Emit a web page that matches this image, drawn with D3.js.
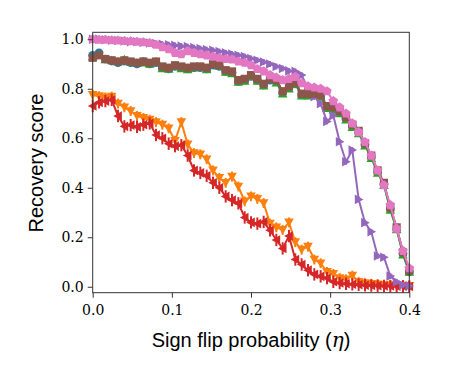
<!DOCTYPE html>
<html>
<head>
<meta charset="utf-8">
<script src="https://cdn.jsdelivr.net/npm/d3@7"></script>
<style>
  body { margin: 0; background: #fff; }
  svg text { fill: #000; }
</style>
</head>
<body>
<svg id="chart" width="449" height="380"></svg>
<script>
// sign flip probability, one value per point
const eta = [0, 0.008, 0.016, 0.024, 0.032, 0.04, 0.048, 0.056, 0.064, 0.072,
  0.08, 0.088, 0.096, 0.104, 0.112, 0.12, 0.128, 0.136, 0.144, 0.152,
  0.16, 0.168, 0.176, 0.184, 0.192, 0.2, 0.208, 0.216, 0.224, 0.232,
  0.24, 0.248, 0.256, 0.264, 0.272, 0.28, 0.288, 0.296, 0.304, 0.312,
  0.32, 0.328, 0.336, 0.344, 0.352, 0.36, 0.368, 0.376, 0.384, 0.392, 0.4]

const blueVals = [0.935, 0.945, 0.92, 0.912, 0.905, 0.912, 0.905, 0.9, 0.91, 0.9,
  0.905, 0.885, 0.88, 0.89, 0.885, 0.88, 0.885, 0.885, 0.88, 0.895,
  0.89, 0.87, 0.865, 0.83, 0.835, 0.85, 0.835, 0.815, 0.835, 0.83,
  0.785, 0.805, 0.82, 0.775, 0.775, 0.775, 0.77, 0.725, 0.72, 0.705,
  0.68, 0.65, 0.625, 0.575, 0.525, 0.465, 0.415, 0.315, 0.235, 0.135, 0.06]
const orangeVals = [0.775, 0.77, 0.765, 0.768, 0.74, 0.725, 0.71, 0.69, 0.682, 0.675,
  0.665, 0.655, 0.64, 0.59, 0.665, 0.575, 0.54, 0.535, 0.515, 0.47,
  0.44, 0.42, 0.445, 0.405, 0.345, 0.365, 0.355, 0.338, 0.255, 0.24,
  0.23, 0.26, 0.18, 0.15, 0.162, 0.11, 0.095, 0.06, 0.052, 0.035,
  0.03, 0.045, 0.02, 0.015, 0.012, 0.01, 0.008, 0.007, 0.006, 0.005, 0.004]
const greenVals = [0.93, 0.94, 0.918, 0.915, 0.91, 0.918, 0.908, 0.905, 0.905, 0.9,
  0.91, 0.882, 0.88, 0.892, 0.882, 0.878, 0.885, 0.888, 0.878, 0.898,
  0.892, 0.868, 0.862, 0.828, 0.832, 0.85, 0.832, 0.812, 0.838, 0.825,
  0.78, 0.8, 0.82, 0.772, 0.772, 0.776, 0.768, 0.722, 0.715, 0.7,
  0.675, 0.645, 0.62, 0.57, 0.52, 0.46, 0.41, 0.31, 0.232, 0.13, 0.06]
const redVals = [0.73, 0.745, 0.75, 0.755, 0.69, 0.648, 0.653, 0.646, 0.655, 0.66,
  0.613, 0.6, 0.578, 0.568, 0.572, 0.53, 0.47, 0.46, 0.448, 0.42,
  0.4, 0.365, 0.35, 0.337, 0.28, 0.26, 0.255, 0.262, 0.228, 0.189,
  0.155, 0.205, 0.11, 0.09, 0.067, 0.05, 0.042, 0.035, 0.02, 0.015,
  0.012, 0.01, 0.008, 0.006, 0.005, 0.004, 0.003, 0.003, 0.002, 0.002, 0.001]
const purpleVals = [1.0, 1.0, 0.998, 0.996, 0.995, 0.993, 0.99, 0.99, 0.987, 0.985,
  0.983, 0.98, 0.978, 0.975, 0.972, 0.97, 0.966, 0.962, 0.958, 0.955,
  0.95, 0.945, 0.94, 0.935, 0.93, 0.922, 0.915, 0.908, 0.9, 0.89,
  0.882, 0.872, 0.87, 0.855, 0.8, 0.768, 0.74, 0.668, 0.692, 0.586,
  0.505, 0.552, 0.353, 0.259, 0.222, 0.124, 0.119, 0.043, 0.02, 0.007, 0.003]
const brownVals = [0.925, 0.935, 0.92, 0.915, 0.91, 0.915, 0.91, 0.905, 0.91, 0.905,
  0.91, 0.89, 0.885, 0.895, 0.89, 0.885, 0.89, 0.89, 0.885, 0.9,
  0.895, 0.875, 0.87, 0.835, 0.84, 0.855, 0.84, 0.82, 0.84, 0.835,
  0.79, 0.81, 0.825, 0.78, 0.78, 0.78, 0.775, 0.73, 0.725, 0.71,
  0.685, 0.655, 0.63, 0.58, 0.53, 0.47, 0.42, 0.32, 0.24, 0.14, 0.065]
const pinkVals = [1.0, 0.998, 0.998, 0.996, 0.995, 0.993, 0.992, 0.99, 0.988, 0.985,
  0.978, 0.968, 0.96, 0.945, 0.94, 0.952, 0.945, 0.94, 0.935, 0.93,
  0.925, 0.92, 0.918, 0.91, 0.905, 0.895, 0.88, 0.87, 0.855, 0.845,
  0.835, 0.84, 0.848, 0.822, 0.81, 0.805, 0.8, 0.79, 0.75, 0.725,
  0.7, 0.66, 0.625, 0.585, 0.53, 0.47, 0.41, 0.33, 0.235, 0.145, 0.075]

const seriesVals = [blueVals, orangeVals, greenVals, redVals, purpleVals, brownVals, pinkVals]
const seriesColors = ['#1f77b4', '#ff7f0e', '#2ca02c', '#d62728', '#9467bd', '#8c564b', '#e377c2']
const seriesMarkers = ['circle', 'triDown', 'triUp', 'triLeft', 'triRight', 'square', 'pentagon']
const seriesErr = [0.01, 0.02, 0.01, 0.025, 0.012, 0.01, 0.01]

const xTicks = [0, 0.1, 0.2, 0.3, 0.4]
const yTicks = [0, 0.2, 0.4, 0.6, 0.8, 1.0]

const svg = d3.select('#chart')
const mLeft = 92.7, mRight = 409.3, mTop = 32.3, mBottom = 292.7

const x = d3.scaleLinear().domain([0, 0.4]).range([mLeft, mRight])
const y = d3.scaleLinear().domain([-0.024, 1.028]).range([mBottom, mTop])

// marker paths centred on 0,0
const ms = 4.8
function markerPath(kind) {
  const r = ms
  switch (kind) {
    case 'circle': return d3.symbol(d3.symbolCircle, 60)()
    case 'square': return `M${-r * 0.85},${-r * 0.85}H${r * 0.85}V${r * 0.85}H${-r * 0.85}Z`
    case 'triDown': return `M${-r},${-r * 0.8}L${r},${-r * 0.8}L0,${r * 1.0}Z`
    case 'triUp': return `M${-r},${r * 0.8}L${r},${r * 0.8}L0,${-r * 1.0}Z`
    case 'triLeft': return `M${r * 0.8},${-r}L${r * 0.8},${r}L${-r},0Z`
    case 'triRight': return `M${-r * 0.8},${-r}L${-r * 0.8},${r}L${r},0Z`
    case 'pentagon': {
      const pts = d3.range(5).map(i => {
        const a = -Math.PI / 2 + i * 2 * Math.PI / 5
        return [Math.cos(a) * r * 1.05, Math.sin(a) * r * 1.05]
      })
      return 'M' + pts.join('L') + 'Z'
    }
  }
}

const plot = svg.append('g')

seriesVals.forEach((vals, s) => {
  const data = vals.map((v, i) => ({ x: eta[i], y: v }))
  const color = seriesColors[s]
  const g = plot.append('g')

  g.append('path')
    .datum(data)
    .attr('fill', 'none')
    .attr('stroke', color)
    .attr('stroke-width', 2)
    .attr('d', d3.line().x(d => x(d.x)).y(d => y(d.y)))

  g.selectAll('line.err')
    .data(data)
    .enter().append('line')
    .attr('class', 'err')
    .attr('x1', d => x(d.x))
    .attr('x2', d => x(d.x))
    .attr('y1', d => y(d.y - seriesErr[s]))
    .attr('y2', d => y(d.y + seriesErr[s]))
    .attr('stroke', color)
    .attr('stroke-width', 2)

  g.selectAll('path.mk')
    .data(data)
    .enter().append('path')
    .attr('class', 'mk')
    .attr('transform', d => `translate(${x(d.x)},${y(d.y)})`)
    .attr('d', markerPath(seriesMarkers[s]))
    .attr('fill', color)
})

// frame
svg.append('rect')
  .attr('x', mLeft).attr('y', mTop)
  .attr('width', mRight - mLeft).attr('height', mBottom - mTop)
  .attr('fill', 'none')
  .attr('stroke', '#333')
  .attr('stroke-width', 1)

const yAxis = svg.append('g')
  .attr('transform', `translate(${mLeft},0)`)
  .call(d3.axisLeft(y).tickValues(yTicks).tickFormat(d3.format('.1f')).tickSize(5).tickPadding(4))
const xAxis = svg.append('g')
  .attr('transform', `translate(0,${mBottom})`)
  .call(d3.axisBottom(x).tickValues(xTicks).tickFormat(d3.format('.1f')).tickSize(5).tickPadding(5))

;[xAxis, yAxis].forEach(ax => {
  ax.select('.domain').remove()
  ax.selectAll('.tick line').attr('stroke', '#333')
  ax.selectAll('.tick text')
    .attr('font-family', '"DejaVu Serif", serif')
    .attr('font-size', 14)
    .attr('fill', '#000')
})
xAxis.selectAll('.tick text').attr('dy', '0.9em')

svg.append('text')
  .attr('transform', 'translate(43,163) rotate(-90)')
  .attr('text-anchor', 'middle')
  .attr('font-family', '"Liberation Sans", sans-serif')
  .attr('font-size', 20)
  .text('Recovery score')

const xl = svg.append('text')
  .attr('x', 251)
  .attr('y', 347)
  .attr('text-anchor', 'middle')
  .attr('font-family', '"Liberation Sans", sans-serif')
  .attr('font-size', 20)
xl.append('tspan').text('Sign flip probability (')
xl.append('tspan').attr('font-family', '"DejaVu Serif", serif').attr('font-style', 'italic').text('η')
xl.append('tspan').text(')')
</script>
</body>
</html>
